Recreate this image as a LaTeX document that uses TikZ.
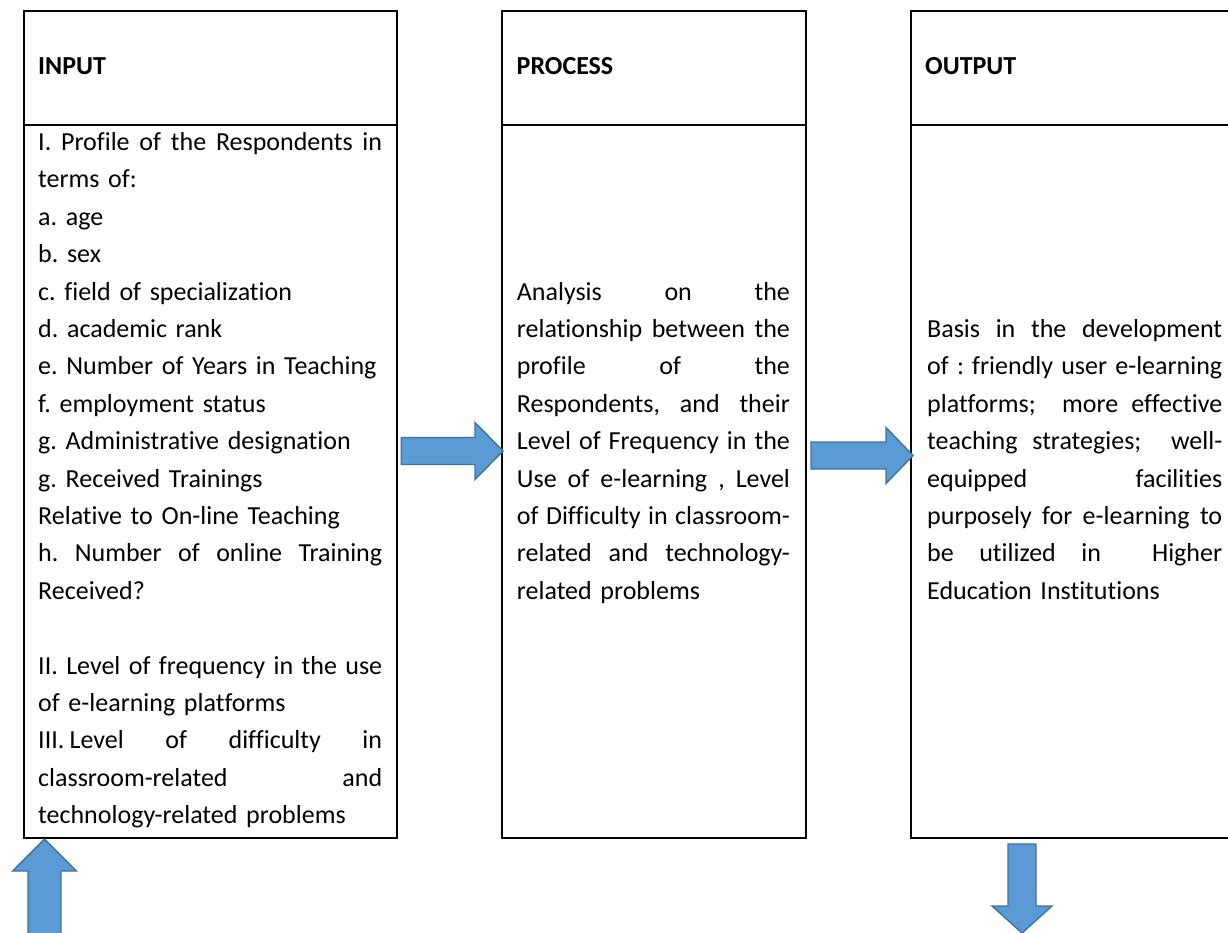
\documentclass[tikz,border=0pt]{standalone}
\usepackage{fontspec}
\setmainfont{Carlito}[Ligatures={NoCommon}]
\usetikzlibrary{calc}

\definecolor{arrowfill}{HTML}{5B9BD5}
\definecolor{arrowline}{HTML}{41719C}

% width of a justified line in the current text block
\newlength\jw
\newcommand\jline[1]{\leavevmode\hbox to\jw{\spaceskip=.226em plus 1fil minus .06em\xspaceskip=\spaceskip #1}}

% block arrow from tail #1 to tip #2; #3 half body width, #4 half head width, #5 head length
\newcommand\blockarrow[5]{%
  \path[blockarrowstyle] let \p1=(#1), \p2=(#2),
    \n1={veclen(\x2-\x1,\y2-\y1)},
    \n2={(\x2-\x1)/\n1}, \n3={(\y2-\y1)/\n1} in
    ({\x1-(\n3)*#3pt},{\y1+(\n2)*#3pt})
    -- ({\x2-(\n2)*#5pt-(\n3)*#3pt},{\y2-(\n3)*#5pt+(\n2)*#3pt})
    -- ({\x2-(\n2)*#5pt-(\n3)*#4pt},{\y2-(\n3)*#5pt+(\n2)*#4pt})
    -- (\p2)
    -- ({\x2-(\n2)*#5pt+(\n3)*#4pt},{\y2-(\n3)*#5pt-(\n2)*#4pt})
    -- ({\x2-(\n2)*#5pt+(\n3)*#3pt},{\y2-(\n3)*#5pt-(\n2)*#3pt})
    -- ({\x1+(\n3)*#3pt},{\y1-(\n2)*#3pt})
    -- cycle;}

\tikzset{
  panel/.style={draw=black, line width=2pt, rectangle, inner sep=0, outer sep=0},
  hdr/.style={anchor=base west, inner sep=0, font=\bfseries\fontsize{26}{37.4}\selectfont},
  bodytext/.style={anchor=base west, inner sep=0, align=left,
    font=\fontsize{26}{37.4}\selectfont\frenchspacing},
  blockarrowstyle/.style={fill=arrowfill, draw=arrowline, line width=1.4pt, line join=miter}
}

\begin{document}
\begin{tikzpicture}[x=1pt,y=-1pt]
\useasboundingbox (0,0) rectangle (1228,932);
\fill[white] (0,0) rectangle (1228,932);
\begin{scope}
\clip (0,0) rectangle (1228,932);

% three columns: a header cell above a body cell
\node[panel, minimum width=372.5, minimum height=114] (inhead) at (210.5,68) {};
\node[panel, minimum width=372.5, minimum height=713] (inbody) at (210.5,481.5) {};
\node[panel, minimum width=304, minimum height=114] (prochead) at (654,68) {};
\node[panel, minimum width=304, minimum height=713] (procbody) at (654,481.5) {};
\node[panel, minimum width=325, minimum height=114] (outhead) at (1073.5,68) {};
\node[panel, minimum width=325, minimum height=713] (outbody) at (1073.5,481.5) {};

\node[hdr] (inlabel) at (38,74.5) {INPUT};
\node[hdr] (proclabel) at (516.5,74.5) {PROCESS};
\node[hdr] (outlabel) at (925,74.5) {OUTPUT};

\node[bodytext, text width=390pt] (intext) at (38,150.5) {\jw=344pt\relax
\jline{I. Profile of the Respondents in}\\
terms of:\\
a. age\\
b. sex\\
c. field of specialization\\
d. academic rank\\
e. Number of Years in Teaching\\
f. employment status\\
g. Administrative designation\\
g. Received Trainings\\
Relative to On-line Teaching\\
\jline{h. Number of online Training}\\
Received?\\
\mbox{}\\
\jline{II. Level of frequency in the use}\\
of e-learning platforms\\
\jline{III.\kern0.2em Level of difficulty in}\\
\jline{classroom-related and}\\
technology-related problems};

\node[bodytext, text width=320pt] (proctext) at (516.7,300.1) {\jw=273pt\relax
\jline{Analysis on the}\\
\jline{relationship between the}\\
\jline{profile of the}\\
\jline{Respondents, and their}\\
\jline{Level of Frequency in the}\\
\jline{Use of e-learning , Level}\\
\jline{of Difficulty in classroom-}\\
\jline{related and technology-}\\
related problems};

\node[bodytext, text width=340pt] (outtext) at (927,337.5) {\jw=295pt\relax
\jline{Basis in the development}\\
\jline{of : friendly user e-learning}\\
\jline{platforms;\ \ more effective}\\
\jline{teaching strategies;\ \ well-}\\
\jline{equipped facilities}\\
\jline{purposely for e-learning to}\\
\jline{be utilized in\ \ Higher}\\
Education Institutions};

% arrows between and around the columns
\coordinate (a1tail) at ($(inbody.east)+(4.5,-30.5)$);
\coordinate (a1tip) at ($(procbody.west)+(1,-30.5)$);
\coordinate (a2tail) at ($(procbody.east)+(5,-26)$);
\coordinate (a2tip) at ($(outbody.west)+(2,-26)$);
\coordinate (uptail) at ($(inbody.south west)+(20.25,112)$);
\coordinate (uptip) at ($(inbody.south west)+(20.25,1)$);
\coordinate (dntail) at ($(outbody.south)+(-51.5,6)$);
\coordinate (dntip) at ($(outbody.south)+(-51.5,95)$);

\blockarrow{a1tail}{a1tip}{13.5}{28.5}{28}
\blockarrow{a2tail}{a2tip}{13.5}{28}{27}
\blockarrow{uptail}{uptip}{16.5}{32}{32}
\blockarrow{dntail}{dntip}{14}{30}{27}
\end{scope}
\end{tikzpicture}
\end{document}
